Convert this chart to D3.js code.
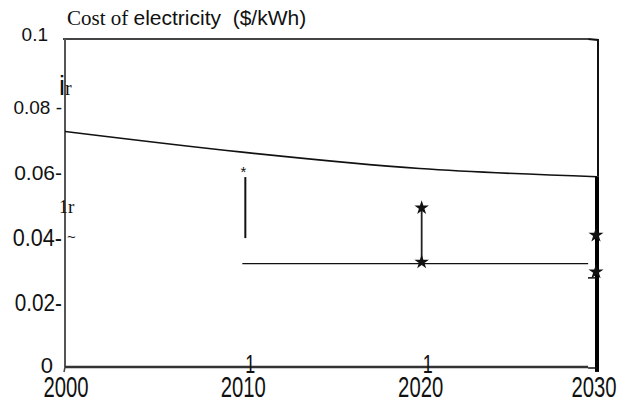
<!DOCTYPE html>
<html><head><meta charset="utf-8">
<script src="https://cdn.jsdelivr.net/npm/d3@7"></script>
<style>
body{margin:0;background:#fff;}
svg{display:block;}
</style></head>
<body>
<svg id="c" width="622" height="401"></svg>
<script>
// ---- data ----
const years = [2000, 2010, 2020, 2030];
const costLine = [0.0718, 0.0655, 0.0605, 0.058];
const yTicks = [0, 0.02, 0.04, 0.06, 0.08, 0.1];
const yTickLabels = ["0", "0.02-", "0.04-", "0.06-", "0.08 -", "0.1"];
const xTickLabels = ["2000", "2010", "2020", "2030"];
const range2010 = [0.0393, 0.0579];
const range2020 = [0.032, 0.0485];
const stars2020 = [0.0485, 0.032];
const stars2030 = [0.0402, 0.029];
const baseYears = [2010, 2029.5];
const baseValue = 0.0315;
const title = ["Cost of", "electricity  ($/kWh)"];

const SANS = "'Liberation Sans',Arial,sans-serif";
const SERIF = "'Liberation Serif','Times New Roman',serif";
const svg = d3.select("#c");
const x = d3.scaleLinear().domain([2000, 2030]).range([65, 597]);
const y = d3.scaleLinear().domain([0, 0.1]).range([367, 39]);

// title
const t = svg.append("text").attr("x", 67).attr("y", 25).attr("font-size", 21)
  .attr("fill", "#111").style("white-space", "pre");
t.append("tspan").attr("font-family", SERIF).text(title[0] + " ");
t.append("tspan").attr("font-family", SANS).text(title[1]);

// frame
svg.append("line").attr("x1", x(2000)-2).attr("x2", x(2029.5)).attr("y1", y(0.1)).attr("y2", y(0.1))
  .attr("stroke", "#444").attr("stroke-width", 2);
svg.append("path").attr("d", `M${x(2029.5)},${y(0.1)} L${x(2030)+1},${y(0.1)+1} L${x(2030)+1},${y(costLine[3])}`)
  .attr("fill", "none").attr("stroke", "#111").attr("stroke-width", 2);
svg.append("line").attr("x1", x(2000)).attr("x2", x(2000)).attr("y1", y(0.1)).attr("y2", y(0))
  .attr("stroke", "#555").attr("stroke-width", 2);
svg.append("line").attr("x1", x(2000)).attr("x2", x(2029.5)).attr("y1", y(0)).attr("y2", y(0))
  .attr("stroke", "#333").attr("stroke-width", 2.5);
svg.append("line").attr("x1", x(2000)).attr("x2", x(2000)-1).attr("y1", y(0)).attr("y2", y(0)+5)
  .attr("stroke", "#444").attr("stroke-width", 1.5);

// y axis labels (per-label sizes and nudges as in the scan)
const yNudge = [-2, 1, 2, 2, 3, -5];
const ySize = [22, 23, 24, 21, 19, 19];
const yRight = [53, 62, 62, 62, 62, 48];
ySize.forEach((s, i) => {
  const g = svg.append("g").attr("transform", `translate(${yRight[i]},${y(yTicks[i]) + yNudge[i]})`);
  g.append("text").attr("transform", `scale(${i === 1 || i === 2 ? 0.9 : 1},1)`)
    .attr("dy", "0.36em").attr("text-anchor", "end")
    .attr("font-size", s).attr("font-family", SANS).attr("fill", "#111")
    .text(yTickLabels[i]);
});

// condensed text helper
function condensed(px, py, txt, size, sx) {
  const g = svg.append("g").attr("transform", `translate(${px},${py})`);
  g.append("text").attr("transform", `scale(${sx},1)`).attr("text-anchor", "middle")
    .attr("font-size", size).attr("font-family", SANS).attr("fill", "#111").text(txt);
}
// x axis labels
years.forEach((d, i) => condensed(x(d) + (i === 3 ? -3 : 1), 397, xTickLabels[i], 29, 0.7));
// tick "1" marks
[2010, 2020].forEach(d => condensed(x(d) + 8, 373, "1", 25, 0.72));

// cost line
svg.append("path").datum(years.map((d, i) => [d, costLine[i]]))
  .attr("d", d3.line().x(d => x(d[0])).y(d => y(d[1])).curve(d3.curveMonotoneX))
  .attr("fill", "none").attr("stroke", "#111").attr("stroke-width", 1.6);

// baseline
svg.append("line").attr("x1", x(baseYears[0])).attr("x2", x(baseYears[1]))
  .attr("y1", y(baseValue)).attr("y2", y(baseValue)).attr("stroke", "#111").attr("stroke-width", 1.3);

// 2010 range
svg.append("line").attr("x1", x(2010)+3).attr("x2", x(2010)+3).attr("y1", y(range2010[0])).attr("y2", y(range2010[1]))
  .attr("stroke", "#111").attr("stroke-width", 2);
svg.append("text").attr("x", x(2010)+1).attr("y", y(range2010[1])).attr("text-anchor", "middle")
  .attr("font-size", 15).attr("font-family", SANS).attr("fill", "#111").text("*");

// 2020 range
svg.append("line").attr("x1", x(2020)+2).attr("x2", x(2020)+2).attr("y1", y(range2020[0])).attr("y2", y(range2020[1]))
  .attr("stroke", "#222").attr("stroke-width", 1.8);
svg.selectAll(".s20").data(stars2020).enter().append("path")
  .attr("transform", d => `translate(${x(2020)+2},${y(d)})`)
  .attr("d", d3.symbol(d3.symbolStar, 65)).attr("fill", "#111");

// 2030 thick line
svg.append("line").attr("x1", x(2030)).attr("x2", x(2030)).attr("y1", y(costLine[3])).attr("y2", y(-0.0015))
  .attr("stroke", "#000").attr("stroke-width", 4);
svg.selectAll(".s30").data(stars2030).enter().append("path")
  .attr("transform", d => `translate(${x(2030)-1},${y(d)})`)
  .attr("d", d3.symbol(d3.symbolStar, 70)).attr("fill", "#111");
svg.append("line").attr("x1", x(2030)-9).attr("x2", x(2030)).attr("y1", y(stars2030[1]) + 6).attr("y2", y(stars2030[1]) + 6)
  .attr("stroke", "#111").attr("stroke-width", 1.5);
svg.append("line").attr("x1", x(2029.5)).attr("x2", x(2030)).attr("y1", y(0)+1).attr("y2", y(0)+1)
  .attr("stroke", "#111").attr("stroke-width", 1.5);

// stray marks from the scan
const m1 = svg.append("text").attr("x", 59).attr("y", 95).attr("fill", "#111");
m1.append("tspan").attr("font-size", 27).attr("font-family", SANS).text("i");
m1.append("tspan").attr("font-size", 20).attr("font-family", SERIF).text("r");
const m2 = svg.append("text").attr("x", 59).attr("y", 213).attr("fill", "#111");
m2.append("tspan").attr("font-size", 18).attr("font-family", SERIF).text("1");
m2.append("tspan").attr("font-size", 19).attr("font-family", SERIF).text("r");
svg.append("text").attr("x", 67).attr("y", 242).attr("font-size", 15)
  .attr("font-family", SANS).attr("fill", "#111").text("~");
</script>
</body></html>
